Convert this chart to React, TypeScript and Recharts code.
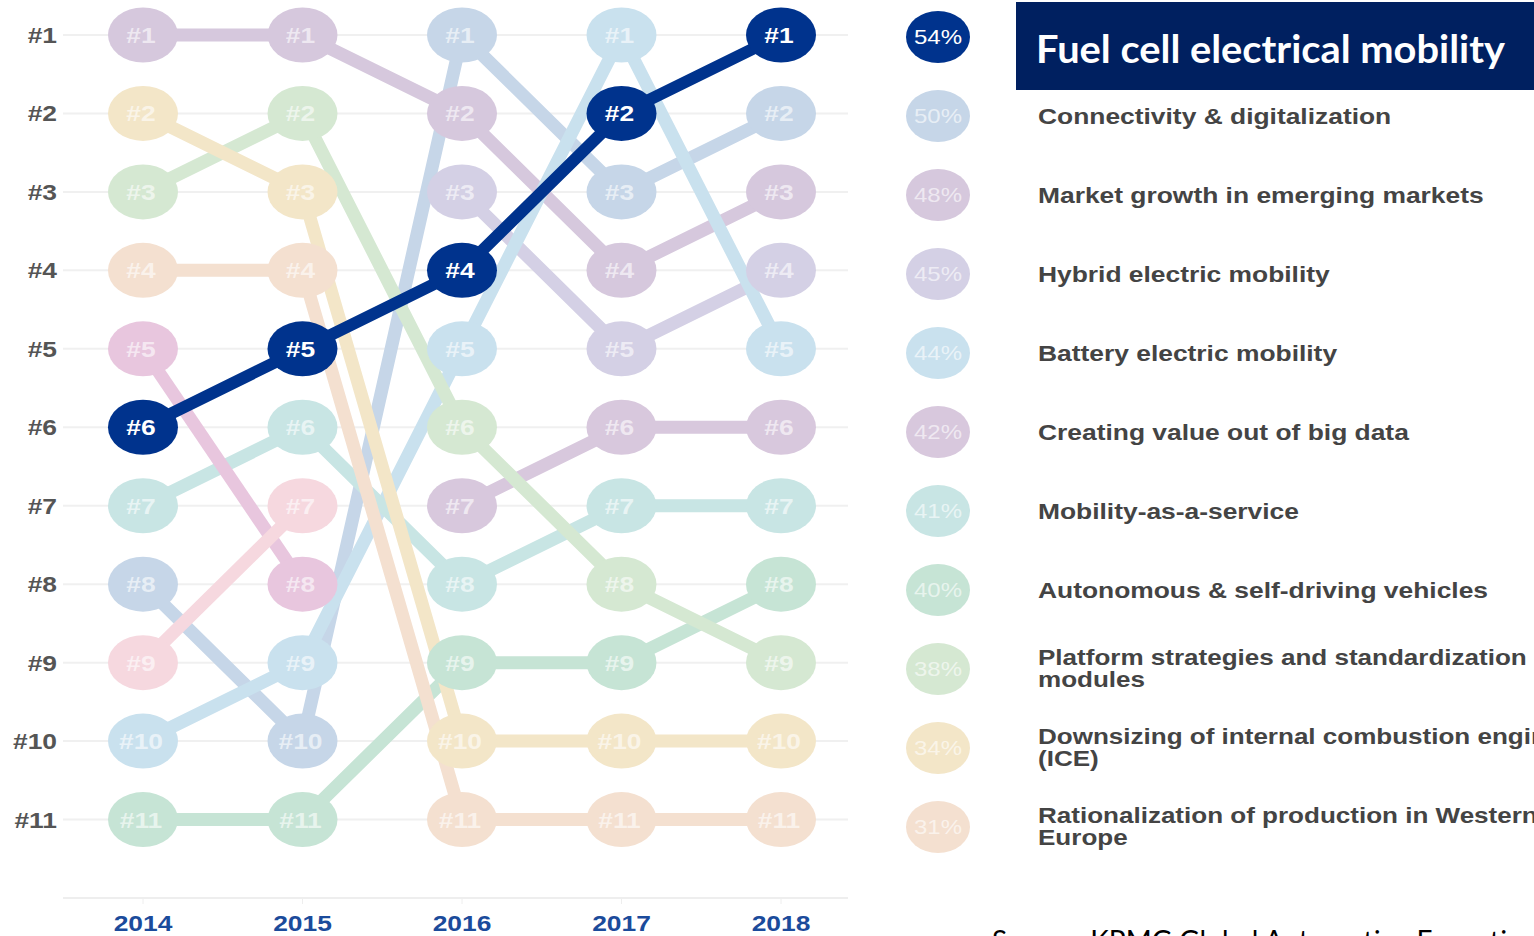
import React from 'react';
import { LineChart, Line, XAxis, YAxis, CartesianGrid, ScatterChart, Scatter } from 'recharts';

// ---------- data ----------
const years = ['2014', '2015', '2016', '2017', '2018'];
const rankTicks = [1, 2, 3, 4, 5, 6, 7, 8, 9, 10, 11];

const fuelCell = [6, 5, 4, 2, 1];
const connectivity = [8, 10, 1, 3, 2];
const marketGrowth = [1, 1, 2, 4, 3];
const hybridElectric = [null, null, 3, 5, 4];
const batteryElectric = [10, 9, 5, 1, 5];
const bigData = [null, null, 7, 6, 6];
const mobilityService = [7, 6, 8, 7, 7];
const autonomous = [11, 11, 9, 9, 8];
const platform = [3, 2, 6, 8, 9];
const downsizing = [2, 3, 10, 10, 10];
const rationalization = [4, 4, 11, 11, 11];
const earlierTrendA = [5, 8, null, null, null];
const earlierTrendB = [9, 7, null, null, null];

const legendNames = [
  'Fuel cell electrical mobility',
  'Connectivity & digitalization',
  'Market growth in emerging markets',
  'Hybrid electric mobility',
  'Battery electric mobility',
  'Creating value out of big data',
  'Mobility-as-a-service',
  'Autonomous & self-driving vehicles',
  'Platform strategies and standardization\nmodules',
  'Downsizing of internal combustion engines\n(ICE)',
  'Rationalization of production in Western\nEurope',
];
const legendShares = [54, 50, 48, 45, 44, 42, 41, 40, 38, 34, 31];
const legendRanks = [1, 2, 3, 4, 5, 6, 7, 8, 9, 10, 11];

const NAVY = '#00338D';
const legendColors = [
  NAVY, '#C6D6E8', '#D6C8DD', '#D4D0E5', '#C9E1EE', '#D8C8DD',
  '#C8E5E4', '#C6E4D5', '#D5E8D2', '#F3E6C8', '#F4E0D0',
];

const lightSeries = [
  { key: 'connectivity', values: connectivity, color: '#C6D6E8' },
  { key: 'marketGrowth', values: marketGrowth, color: '#D6C8DD' },
  { key: 'hybridElectric', values: hybridElectric, color: '#D4D0E5' },
  { key: 'batteryElectric', values: batteryElectric, color: '#C9E1EE' },
  { key: 'bigData', values: bigData, color: '#D8C8DD' },
  { key: 'mobilityService', values: mobilityService, color: '#C8E5E4' },
  { key: 'autonomous', values: autonomous, color: '#C6E4D5' },
  { key: 'platform', values: platform, color: '#D5E8D2' },
  { key: 'downsizing', values: downsizing, color: '#F3E6C8' },
  { key: 'rationalization', values: rationalization, color: '#F4E0D0' },
  { key: 'earlierTrendA', values: earlierTrendA, color: '#E8C6DE' },
  { key: 'earlierTrendB', values: earlierTrendB, color: '#F6D8DF' },
];

const chartData = years.map((year, i) => {
  const row: any = { year, fuelCell: fuelCell[i] };
  lightSeries.forEach((s) => { row[s.key] = s.values[i]; });
  return row;
});

const legendData = legendNames.map((name, i) => ({
  name, share: legendShares[i], rank: legendRanks[i], color: legendColors[i], col: 0,
}));

// ---------- rendering helpers ----------
const FONT = '"Liberation Sans", Arial, Helvetica, sans-serif';
const SX = 1.2;

const RankTick = (props: any) => {
  const { x, y, payload } = props;
  return (
    <g transform={`translate(${x},${y}) scale(${SX},1)`}>
      <text x={0} y={8} textAnchor="end" fontFamily={FONT} fontWeight="bold" fontSize={22} fill="#555">
        {`#${payload.value}`}
      </text>
    </g>
  );
};

const YearTick = (props: any) => {
  const { x, y, payload } = props;
  return (
    <g transform={`translate(${x},${y}) scale(${SX},1)`}>
      <text x={0} y={16} textAnchor="middle" fontFamily={FONT} fontWeight="bold" fontSize={22} fill="#1B4B9B">
        {payload.value}
      </text>
    </g>
  );
};

const makeDot = (color: string, textOpacity: number, name: string) => (props: any) => {
  const { cx, cy, value, index } = props;
  if (cx == null || cy == null || value == null) return <g key={`${name}-${index}`} />;
  return (
    <g key={`${name}-${index}`}>
      <ellipse cx={cx} cy={cy} rx={35} ry={27.5} fill={color} />
      <g transform={`translate(${cx - 2},${cy}) scale(${SX},1)`}>
        <text x={0} y={8} textAnchor="middle" fontFamily={FONT} fontWeight="bold" fontSize={22}
          fill="#fff" fillOpacity={textOpacity}>
          {`#${value}`}
        </text>
      </g>
    </g>
  );
};

const LegendShape = (props: any) => {
  const { cx, cy, payload } = props;
  const lines: string[] = payload.name.split('\n');
  const navy = payload.color === NAVY;
  return (
    <g>
      <ellipse cx={cx} cy={cy} rx={32} ry={26} fill={payload.color} />
      <g transform={`translate(${cx},${cy}) scale(1.2,1)`}>
        <text x={0} y={7} textAnchor="middle" fontFamily={FONT} fontSize={20}
          fill="#fff" fillOpacity={navy ? 1 : 0.6}>
          {`${payload.share}%`}
        </text>
      </g>
      {!navy && (
        <g transform={`translate(${cx + 100},${cy}) scale(${SX},1)`}>
          {lines.map((ln, i) => (
            <text key={i} x={0} y={lines.length === 1 ? 8 : -4 + i * 22}
              fontFamily={FONT} fontWeight="bold" fontSize={lines.length === 1 ? 22 : 21.7} fill="#444">
              {ln}
            </text>
          ))}
        </g>
      )}
    </g>
  );
};

export default function App() {
  return (
    <div style={{ position: 'absolute', left: 0, top: 0, width: 1534, height: 936, overflow: 'hidden', background: '#fff' }}>
      <div style={{ position: 'absolute', left: 0, top: 0 }}>
        <LineChart width={870} height={936} data={chartData} margin={{ top: 35, right: 22, bottom: 0, left: 0 }}>
          <CartesianGrid horizontal vertical={false} stroke="#F0F0F0" strokeWidth={2} />
          <XAxis dataKey="year" type="category" padding={{ left: 80, right: 67 }} height={38}
            axisLine={{ stroke: '#EEEEEE', strokeWidth: 2 }} tickLine={{ stroke: '#EEEEEE' }}
            tickSize={6} tickMargin={11} tick={<YearTick />} interval={0} />
          <YAxis type="number" domain={[1, 12]} reversed ticks={rankTicks} interval={0} width={63}
            axisLine={false} tickLine={false} tickSize={0} tickMargin={6} tick={<RankTick />} />
          {lightSeries.map((s) => (
            <Line key={`l-${s.key}`} dataKey={s.key} stroke={s.color} strokeWidth={13} dot={false}
              activeDot={false} isAnimationActive={false} connectNulls={false} />
          ))}
          {lightSeries.map((s) => (
            <Line key={`d-${s.key}`} dataKey={s.key} stroke="none" strokeWidth={0}
              dot={makeDot(s.color, 0.6, s.key)} activeDot={false} isAnimationActive={false} />
          ))}
          <Line dataKey="fuelCell" stroke={NAVY} strokeWidth={12} dot={makeDot(NAVY, 1, 'fuelCell')}
            activeDot={false} isAnimationActive={false} />
        </LineChart>
      </div>
      <div style={{ position: 'absolute', left: 870, top: 0 }}>
        <ScatterChart width={664} height={936} margin={{ top: 37, right: 0, bottom: 30, left: 68 }}>
          <XAxis type="number" dataKey="col" domain={[0, 1]} hide />
          <YAxis type="number" dataKey="rank" domain={[1, 12]} reversed hide />
          <Scatter data={legendData} shape={<LegendShape />} isAnimationActive={false} />
        </ScatterChart>
      </div>
      <div style={{ position: 'absolute', left: 1016, top: 2, width: 518, height: 88 }}>
        <svg width={518} height={88}>
          <rect x={0} y={0} width={518} height={88} fill="#002060" />
          <text x={20} y={61} fontFamily="Lato, 'Open Sans', sans-serif" fontWeight={700} fontSize={39}
            fill="#fff" textLength={469} lengthAdjust="spacingAndGlyphs">
            {legendNames[0]}
          </text>
        </svg>
      </div>
      <div style={{ position: 'absolute', left: 992, top: 922, whiteSpace: 'nowrap',
        fontFamily: "Lato, 'Open Sans', sans-serif", fontSize: 28, color: '#000', lineHeight: '36px' }}>
        Source: KPMG Global Automotive Executive Survey 2018
      </div>
    </div>
  );
}
